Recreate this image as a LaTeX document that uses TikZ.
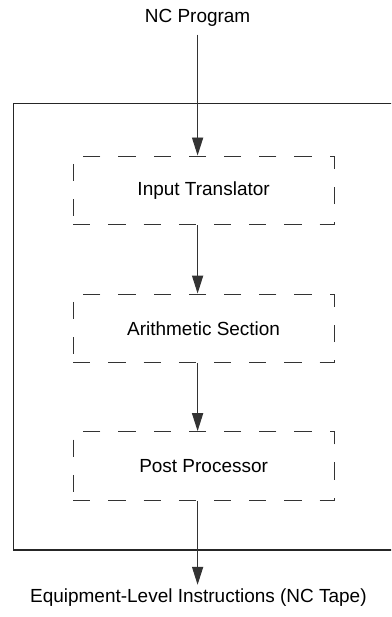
\documentclass[tikz,border=0pt]{standalone}
\usepackage{fontspec}
\setmainfont{Liberation Sans}
\usetikzlibrary{arrows.meta, positioning, calc}
\definecolor{linegray}{RGB}{51,51,51}

\begin{document}
\begin{tikzpicture}[
            font=\fontsize{13.5}{16}\selectfont,
            stage/.style={draw=linegray, line width=0.7pt, dash pattern=on 0.43cm off 0.45cm, minimum width=6.52cm, minimum height=1.72cm, align=center},
            lbl/.style={inner sep=0pt, anchor=base},
            arr/.style={-{Triangle[length=4.5mm, width=2.8mm]}, linegray, line width=0.7pt}
        ]
            \clip (0,0) rectangle (9.775,-15.425);
            \draw[line width=0.9pt, black!85] (0.333,-2.583) rectangle (10,-13.75);

            \node[lbl] (prog) at (4.94,-0.56) {NC Program};
            \node[stage] (trans) at (5.09,-4.76) {Input Translator};
            \node[stage] (arith) at (5.09,-8.21) {Arithmetic Section};
            \node[stage] (post) at (5.09,-11.65) {Post Processor};
            \node[lbl] (tape) at (4.96,-15.07) {Equipment-Level Instructions (NC Tape)};

            \draw[arr, shorten <=0.2cm] (prog.south) -- (trans.north -| prog);
            \draw[arr] (trans.south -| prog) -- (arith.north -| prog);
            \draw[arr] (arith.south -| prog) -- (post.north -| prog);
            \draw[arr, shorten >=0.1cm] (post.south -| prog) -- (tape.north -| prog);
        \end{tikzpicture}
\end{document}
